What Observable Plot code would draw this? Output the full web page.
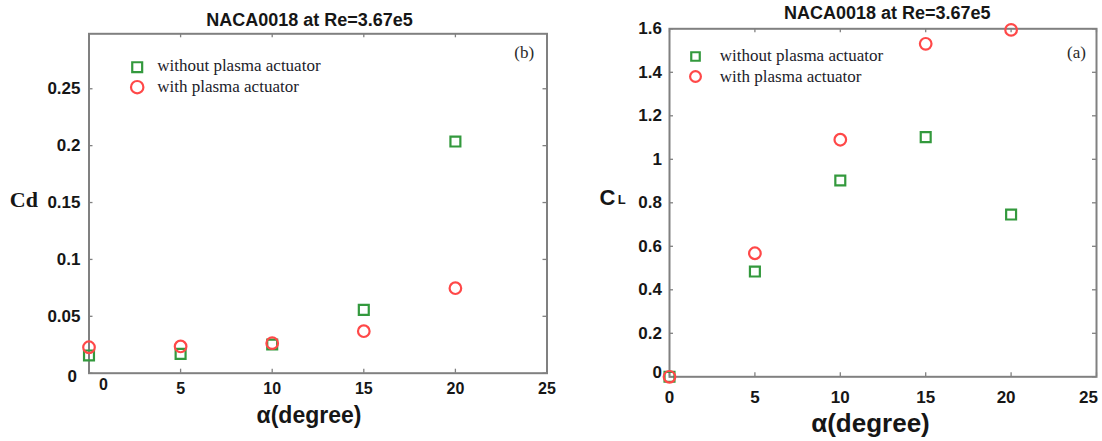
<!DOCTYPE html>
<html><head><meta charset="utf-8">
<script src="https://cdn.jsdelivr.net/npm/d3@7"></script>
<script src="https://cdn.jsdelivr.net/npm/@observablehq/plot@0.6"></script>
<style>
html,body{margin:0;padding:0;background:#fff;}
#wrap{position:relative;width:1102px;height:441px;overflow:hidden;background:#fff;}
#wrap svg{position:absolute;top:0;}
</style></head>
<body><div id="wrap"></div>
<script>
// ---- data ----
const alpha = [0, 5, 10, 15, 20];
const cdWithout = [0.0156, 0.017, 0.0252, 0.0557, 0.2036];
const cdWith = [0.0228, 0.0235, 0.0264, 0.0369, 0.0747];
const clWithout = [0, 0.484, 0.9025, 1.102, 0.746];
const clWith = [0, 0.568, 1.09, 1.531, 1.595];
const xTicks = [0, 5, 10, 15, 20, 25];
const cdTicks = [0, 0.05, 0.1, 0.15, 0.2, 0.25];
const clTicks = [0, 0.2, 0.4, 0.6, 0.8, 1, 1.2, 1.4, 1.6];
const seriesLabels = ["without plasma actuator", "with plasma actuator"];
const titleText = "NACA0018 at Re=3.67e5";
const xLabelText = "α(degree)";

const GREEN = "#33993d", RED = "#ff4848", FRAME = "#808080", INK = "#161616";
const SANS = '"Liberation Sans", Arial, sans-serif';
const SERIF = '"Liberation Serif", "Times New Roman", serif';

function panel(o) {
  const ph = o.height - o.mt - o.mb, pw = o.width - o.ml - o.mr, tl = 4;
  const pts = (vals) => alpha.map((a, i) => ({a, v: vals[i]}));
  const ann = (txt, dx, dy, extra) => Plot.text([txt], {text: d => d, frameAnchor: "top-left", lineAnchor: "middle", dx, dy, fill: INK, ...extra});
  const ax = o.axes;
  return Plot.plot({
    width: o.width, height: o.height,
    marginLeft: o.ml, marginRight: o.mr, marginTop: o.mt, marginBottom: o.mb,
    x: {domain: [0, 25], label: null},
    y: {domain: o.yDomain, label: null},
    style: {fontFamily: SANS, color: INK, background: "transparent", overflow: "visible"},
    marks: [
      Plot.tickX(xTicks, {x: d => d, stroke: FRAME, strokeWidth: 1.3, insetTop: ph - tl}),
      Plot.tickX(xTicks, {x: d => d, stroke: FRAME, strokeWidth: 1.3, insetBottom: ph - tl}),
      Plot.tickY(o.yTicks, {y: d => d, stroke: FRAME, strokeWidth: 1.3, insetRight: pw - tl}),
      Plot.tickY(o.yTicks, {y: d => d, stroke: FRAME, strokeWidth: 1.3, insetLeft: pw - tl}),
      Plot.frame({stroke: FRAME, strokeWidth: 2}),
      ...ax.x.map(g => Plot.axisX(g.ticks, {tickSize: 0, tickPadding: o.xPad, fontSize: o.xFont, fontWeight: "bold", fill: INK, label: null, dx: g.dx || 0, dy: g.dy || 0})),
      ...ax.y.map(g => Plot.axisY(g.ticks, {tickSize: 0, tickPadding: o.yPad, fontSize: o.yFont, fontWeight: "bold", fill: INK, label: null, tickFormat: d => String(d), dx: g.dx || 0, dy: g.dy || 0})),
      Plot.dot(pts(o.without), {x: "a", y: "v", symbol: "square", r: 5.6, stroke: GREEN, strokeWidth: 2.2, fill: "none"}),
      Plot.dot(pts(o.withv), {x: "a", y: "v", symbol: "circle", r: 5.8, stroke: RED, strokeWidth: 2.2, fill: "none"}),
      // title
      ann(titleText, o.title[0], o.title[1], {textAnchor: "middle", fontSize: 18, fontWeight: "bold", fontFamily: SANS}),
      // panel tag
      ann(o.tag, o.tagPos[0], o.tagPos[1], {textAnchor: "middle", fontSize: 17, fontFamily: SERIF, fill: "#2a2a2a"}),
      // legend
      Plot.dot([0], {frameAnchor: "top-left", dx: o.leg.mx, dy: o.leg.y1, symbol: "square", r: o.leg.r, stroke: GREEN, strokeWidth: 2.2, fill: "none"}),
      Plot.dot([0], {frameAnchor: "top-left", dx: o.leg.mx, dy: o.leg.y2, symbol: "circle", r: o.leg.r + 0.6, stroke: RED, strokeWidth: 2.2, fill: "none"}),
      ann(seriesLabels[0], o.leg.tx, o.leg.ty1, {textAnchor: "start", fontSize: 17, fontFamily: SERIF, fill: "#1c1c2a"}),
      ann(seriesLabels[1], o.leg.tx, o.leg.ty2, {textAnchor: "start", fontSize: 17, fontFamily: SERIF, fill: "#1c1c2a"}),
      // axis titles
      ...o.yTitle.map(t => ann(t.text, t.dx, t.dy, {textAnchor: t.anchor, fontSize: t.size, fontWeight: "bold", fontFamily: t.font})),
      ann(xLabelText, o.xTitle[0], o.xTitle[1], {textAnchor: "middle", fontSize: o.xTitle[2], fontWeight: "bold", fontFamily: SANS})
    ]
  });
}

const left = panel({
  width: 560, height: 441, ml: 88.5, mr: 13.5, mt: 33.3, mb: 68.3,
  yDomain: [0, 0.2983], yTicks: cdTicks, without: cdWithout, withv: cdWith,
  xPad: 9, xFont: 16, yPad: 8.5, yFont: 17,
  axes: {x: [{ticks: xTicks.slice(1)}, {ticks: [0], dx: 14.5, dy: -4}], y: [{ticks: cdTicks.slice(1)}, {ticks: [0], dx: -3.5, dy: 3.5}]},
  title: [220.5, -13.6], tag: "(b)", tagPos: [435.2, 19.2],
  leg: {mx: 48.2, y1: 33.4, y2: 53.4, r: 5.6, tx: 68.2, ty1: 31.5, ty2: 52.5},
  yTitle: [{text: "Cd", dx: -65.2, dy: 165.7, anchor: "middle", size: 22, font: SERIF}],
  xTitle: [220, 382, 23]
});
const right = panel({
  width: 542, height: 441, ml: 109, mr: 6, mt: 28.3, mb: 64.7,
  yDomain: [0, 1.6], yTicks: clTicks, without: clWithout, withv: clWith,
  xPad: 14, xFont: 17, yPad: 7.5, yFont: 17,
  axes: {x: [{ticks: [0, 5, 10, 15]}, {ticks: [20], dx: -5}, {ticks: [25], dx: -8}], y: [{ticks: clTicks.slice(1)}, {ticks: [0], dy: -4.6}]},
  title: [217.7, -15.6], tag: "(a)", tagPos: [407, 23.7],
  leg: {mx: 26, y1: 27.7, y2: 47.7, r: 4.8, tx: 50.3, ty1: 26.9, ty2: 47.7},
  yTitle: [{text: "C", dx: -70, dy: 168.7, anchor: "start", size: 22, font: SANS},
           {text: "L", dx: -51.7, dy: 171.5, anchor: "start", size: 13, font: SANS}],
  xTitle: [201, 395.1, 26]
});
left.style.left = "0px";
right.style.left = "560px";
const wrap = document.getElementById("wrap");
wrap.appendChild(left);
wrap.appendChild(right);
</script>
</body></html>
